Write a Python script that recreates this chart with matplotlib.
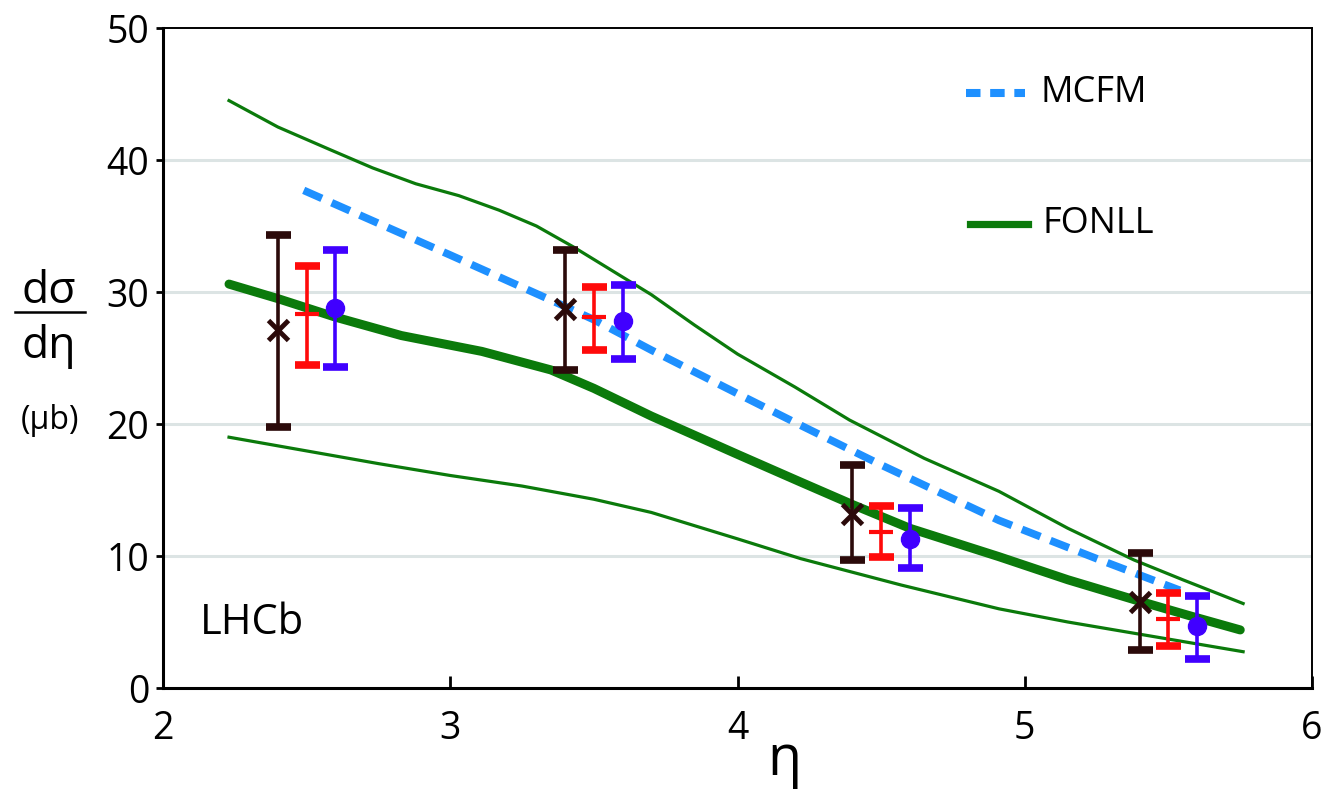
import matplotlib.pyplot as plt
import numpy as np

plt.rcParams['font.family'] = ['Open Sans', 'DejaVu Sans']

# measured points: three series offset around each eta bin
eta_black = [2.4, 3.4, 4.4, 5.4]
val_black = [27.1, 28.7, 13.2, 6.5]
hi_black = [34.3, 33.2, 16.9, 10.2]
lo_black = [19.8, 24.1, 9.7, 2.9]

eta_red = [2.5, 3.5, 4.5, 5.5]
val_red = [28.3, 28.1, 11.8, 5.2]
hi_red = [32.0, 30.4, 13.8, 7.2]
lo_red = [24.5, 25.6, 9.9, 3.2]

eta_blue = [2.6, 3.6, 4.6, 5.6]
val_blue = [28.8, 27.8, 11.3, 4.7]
hi_blue = [33.2, 30.5, 13.6, 7.0]
lo_blue = [24.3, 24.9, 9.1, 2.2]

# FONLL central value and band edges
eta_mid = [2.23, 2.4, 2.6, 2.83, 3.11, 3.35, 3.5, 3.7, 4.0, 4.22, 4.4, 4.6,
           4.91, 5.15, 5.38, 5.57, 5.75]
fonll_mid = [30.6, 29.5, 28.1, 26.7, 25.5, 24.1, 22.7, 20.6, 17.7, 15.6, 13.9,
             12.1, 9.95, 8.2, 6.7, 5.5, 4.4]
eta_up = [2.23, 2.4, 2.58, 2.73, 2.88, 3.03, 3.17, 3.3, 3.43, 3.55, 3.7, 3.85,
          4.0, 4.2, 4.39, 4.65, 4.91, 5.15, 5.38, 5.55, 5.76]
fonll_hi = [44.5, 42.5, 40.8, 39.4, 38.2, 37.3, 36.2, 35.0, 33.4, 31.8, 29.8,
            27.5, 25.3, 22.8, 20.3, 17.4, 14.9, 12.1, 9.7, 8.2, 6.4]
eta_low = [2.23, 2.49, 2.75, 3.0, 3.25, 3.5, 3.7, 4.0, 4.22, 4.57, 4.91, 5.15,
           5.38, 5.76]
fonll_lo = [19.0, 18.0, 17.0, 16.1, 15.3, 14.3, 13.3, 11.3, 9.8, 7.8, 6.0, 5.0,
            4.15, 2.75]

# MCFM
eta_mcfm = [2.49, 3.0, 3.4, 3.5, 3.7, 4.0, 4.22, 4.5, 4.91, 5.25, 5.54]
mcfm = [37.7, 32.8, 28.9, 27.9, 25.6, 22.3, 19.9, 16.9, 12.7, 9.8, 7.4]

green = '#0b7a0b'
mblue = '#1e90ff'


def errs(v, hi, lo):
    v = np.array(v)
    return [v - np.array(lo), np.array(hi) - v]


fig = plt.figure(figsize=(13.28, 7.91), dpi=100)
ax = fig.add_axes([0.1227, 0.1302, 0.8653, 0.8344])

for y in [10, 20, 30, 40]:
    ax.axhline(y, color='#dce4e4', lw=2.2, zorder=0)

ax.plot(eta_up, fonll_hi, color=green, lw=2.3, zorder=2)
ax.plot(eta_low, fonll_lo, color=green, lw=2.3, zorder=2)
ax.plot(eta_mid, fonll_mid, color=green, lw=6.5, solid_capstyle='round',
        solid_joinstyle='round', zorder=2)
ax.plot(eta_mcfm, mcfm, color=mblue, lw=5.5, ls=(0, (2.6, 1.4)), zorder=3)

for eta, val, hi, lo, col in [(eta_black, val_black, hi_black, lo_black, '#2b0a0a'),
                              (eta_red, val_red, hi_red, lo_red, '#ff0a0a'),
                              (eta_blue, val_blue, hi_blue, lo_blue, '#4000ff')]:
    ax.errorbar(eta, val, yerr=errs(val, hi, lo), fmt='none', ecolor=col,
                elinewidth=2.6, capsize=9, capthick=5.5, zorder=4)

ax.plot(eta_black, val_black, 'x', color='#2b0a0a', ms=14, mew=3.5, zorder=5)
ax.plot(eta_red, val_red, '_', color='#ff0a0a', ms=17, mew=3, zorder=5)
ax.plot(eta_blue, val_blue, 'o', color='#4000ff', ms=13, zorder=5)

# legend drawn by hand
ax.plot([4.795, 5.0], [45.1, 45.1], color=mblue, lw=5.8, ls=(0, (1.8, 1.2)))
ax.text(5.053, 45.1, 'MCFM', fontsize=26, va='center')
ax.plot([4.81, 5.01], [35.15, 35.15], color=green, lw=5.2)
ax.text(5.06, 35.15, 'FONLL', fontsize=26, va='center')

ax.text(2.13, 4.1, 'LHCb', fontsize=30)

ax.set_xlim(2, 6)
ax.set_ylim(0, 50)
ax.set_xticks([2, 3, 4, 5, 6])
ax.set_yticks([0, 10, 20, 30, 40, 50])
ax.tick_params(axis='x', direction='in', length=9, width=2, labelsize=27, pad=16)
ax.tick_params(axis='y', direction='out', length=5, width=2, labelsize=27, pad=5)
for s in ax.spines.values():
    s.set_linewidth(2.2)
ax.spines['top'].set_linewidth(1.4)
ax.spines['right'].set_linewidth(1.4)

fig.text(767 / 1328, 0.02, 'η', fontsize=40, ha='left', va='baseline')
fig.text(0.037, 0.617, 'dσ', fontsize=32, ha='center', va='baseline')
fig.add_artist(plt.Line2D([15 / 1328, 85 / 1328], [0.6056, 0.6056],
                          color='black', lw=1.8, transform=fig.transFigure))
fig.text(0.037, 0.547, 'dη', fontsize=32, ha='center', va='baseline')
fig.text(0.038, 0.469, '(μb)', fontsize=23, ha='center', va='center')

fig.savefig('out.png', dpi=100)
